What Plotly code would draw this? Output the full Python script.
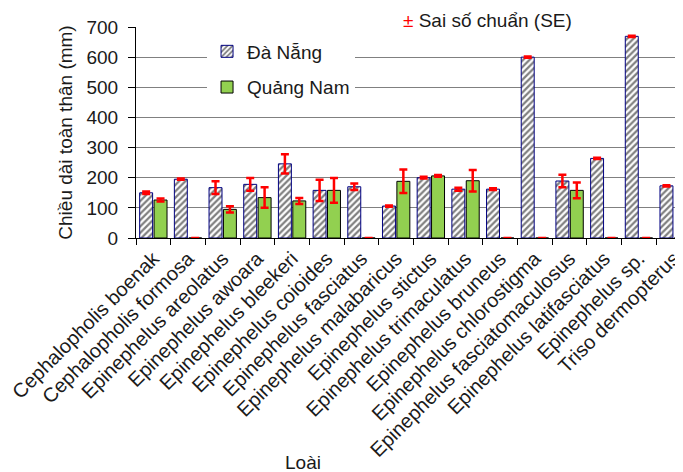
import plotly.graph_objects as go

categories = [
    "Cephalopholis boenak", "Cephalopholis formosa", "Epinephelus areolatus",
    "Epinephelus awoara", "Epinephelus bleekeri", "Epinephelus coioides",
    "Epinephelus fasciatus", "Epinephelus malabaricus", "Epinephelus stictus",
    "Epinephelus trimaculatus", "Epinephelus bruneus", "Epinephelus chlorostigma",
    "Epinephelus fasciatomaculosus", "Epinephelus latifasciatus", "Epinephelus sp.",
    "Triso dermopterus",
]
da_nang = [150, 195, 167, 178, 246, 158, 170, 106, 200, 162, 162, 600, 189, 264, 669, 173]
da_nang_se = [4, 2, 21, 21, 32, 35, 11, 2, 3, 5, 3, 2, 21, 2, 2, 2]
quang_nam = [126, 0, 95, 134, 123, 158, 0, 188, 206, 190, 0, 0, 158, 0, 0, 0]
quang_nam_se = [5, 0, 10, 34, 10, 41, 0, 39, 3, 36, 0, 0, 26, 0, 0, 0]

FONT = "Liberation Sans, Arial, sans-serif"
TXT = "#1a1a1a"

# page body offsets the figure by 8px; layout values are in figure coordinates
PL, PT, PB = 128, 19, 472 - 230
PW = 683 - PL
PH = 472 - PT - PB

fig = go.Figure()
fig.add_trace(go.Bar(
    name="Đà Nẵng", x=categories, y=da_nang, legendgroup="a",
    marker=dict(color="white", line=dict(color="#000080", width=1),
                pattern=dict(shape="/", fgcolor="#000000", bgcolor="white", size=4.5, solidity=0.5)),
    error_y=dict(type="data", array=da_nang_se, color="#ff0000", thickness=2.5, width=4),
))
fig.add_trace(go.Bar(
    name="Quảng Nam", x=categories, y=quang_nam, legendgroup="b",
    marker=dict(color="#92d050", line=dict(color="#000000", width=1)),
    error_y=dict(type="data", array=quang_nam_se, color="#ff0000", thickness=2.5, width=4),
))

pad = "&nbsp;" * 7
fig.update_layout(
    width=683, height=472,
    margin=dict(l=PL, r=0, t=PT, b=PB),
    paper_bgcolor="white", plot_bgcolor="white",
    font=dict(family=FONT, size=19, color=TXT),
    barmode="group", bargap=0.17, bargroupgap=0.1,
    showlegend=True,
    legend=dict(x=0.128, y=0.974, xanchor="left", yanchor="top",
                bgcolor="white", borderwidth=0, tracegroupgap=8,
                font=dict(family=FONT, size=19, color=TXT)),
    xaxis=dict(range=[-0.5, 15.5], tickangle=-45, ticks="outside", tickson="boundaries",
               ticklen=6, tickcolor="black", showline=True, linecolor="black", linewidth=1,
               showgrid=False, automargin=False,
               tickfont=dict(family=FONT, size=20, color=TXT)),
    yaxis=dict(range=[0, 700], dtick=100, ticks="outside", ticklen=7, tickcolor="black",
               showline=True, linecolor="black", linewidth=1, showgrid=True,
               gridcolor="#808080", gridwidth=1, zeroline=False, ticklabelstandoff=6,
               automargin=False,
               tickfont=dict(family=FONT, size=19, color=TXT),
               title=dict(text="Chiều dài toàn thân (mm)", standoff=8,
                          font=dict(family=FONT, size=19, color=TXT))),
    annotations=[
        dict(text=pad + "<span style='color:#ff0000'>±</span> Sai số chuẩn (SE)" + pad,
             xref="paper", yref="paper", x=(487 - 136) / PW, y=1 + (27 - 21) / PH,
             xanchor="center", yanchor="middle", showarrow=False, bgcolor="white",
             borderpad=0, font=dict(family=FONT, size=19, color=TXT)),
        dict(text="Loài", xref="paper", yref="paper", x=(303 - 136) / PW,
             y=-(462 - 238) / PH, xanchor="center", yanchor="middle", showarrow=False,
             font=dict(family=FONT, size=19, color=TXT)),
    ],
)

fig.write_html("out.html")
